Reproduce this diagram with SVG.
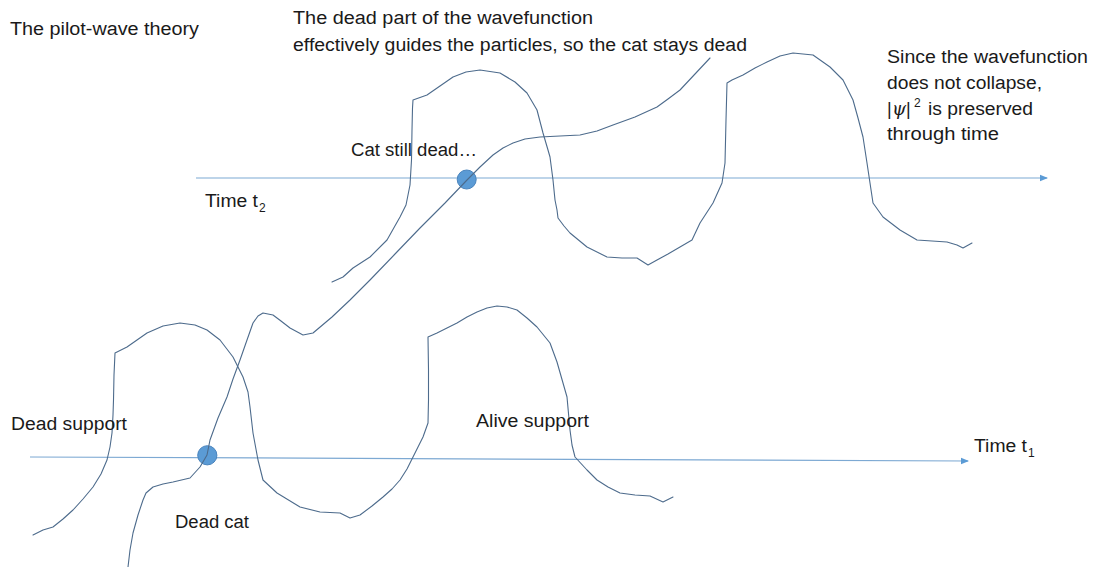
<svg xmlns="http://www.w3.org/2000/svg" width="1094" height="567" viewBox="0 0 1094 567">
<defs>
<style>
.t{font-family:"Liberation Sans",Arial,sans-serif;font-size:18px;fill:#1a1a1a}
.sub{font-size:12px}
.axis{stroke:#7DA9D3;stroke-width:1.2;fill:none}
.wave{stroke:#4D6B8C;stroke-width:1.1;fill:none;stroke-linejoin:round;stroke-linecap:round}
.dot{fill:#5B9BD5;stroke:#4A84BD;stroke-width:1}
</style>
<marker id="arr" markerWidth="8" markerHeight="8" refX="7" refY="4" orient="auto" markerUnits="userSpaceOnUse">
<path d="M0,0.8 L8,4 L0,7.2 Z" fill="#5B9BD5"/>
</marker>
</defs>
<rect width="1094" height="567" fill="#fff"/>

<g id="axes">
<line id="axis-t2" class="axis" x1="196" y1="178" x2="1047" y2="178" marker-end="url(#arr)"/>
<line id="axis-t1" class="axis" x1="30" y1="457" x2="968" y2="461" marker-end="url(#arr)"/>
</g>

<g id="dots">
<circle id="dot-t2" class="dot" cx="466.7" cy="179.5" r="9.5"/>
<circle id="dot-t1" class="dot" cx="207.3" cy="455.3" r="9.6"/>
</g>

<g id="connectors">
<polyline id="wave-t2-dead" class="wave" points="332,282 343,277 353,268 370,257 387,240 400,217 406,205 410,185 411.5,160 412,130 412.5,108 413,100 427,95 440,86 453,77 466,72 480,70 500,73 515,82 527,93 537,110 543,133 548,150 550,157 553,180 555,200 557,210 558,218 564,226 570,233 587,247 607,257 622,258 637,258 648,265 657,260 668,254 680,247 692,240 700,223 713,203 722,183 725,163 726,120 727,83 732,80 743,75 755,68 767,62 780,56 793,53 813,55 830,67 843,80 853,100 858,118 863,137 867,163 870,183 873,203 883,217 900,230 917,240 932,241 947,242 957,245 963,248 972,243"/>
<polyline id="wave-t1" class="wave" points="33,535 43,530 53,527 63,519 73,510 83,499 93,487 101,474 107,460 110,447 112,433 113,415 113.5,400 114,375 115,353 127,347 137,340 147,333 163,326 180,323 195,325 207,330 220,340 233,357 243,377 248,392 250,407 253,433 258,460 263,480 277,493 300,507 320,512 340,513 350,518 360,515 372,506 383,497 392,489 400,480 407,469 413,457 418,447 423,437 428,423 428.5,400 428.5,370 428,337 437,333 447,328 457,323 467,317 477,312 487,308 497,306 507,307 517,310 527,318 537,327 550,343 557,362 563,383 567,397 570,430 572,445 575,457 587,470 597,480 608,487 620,493 635,495 650,496 663,502 673,497"/>
<polyline id="trajectory" class="wave" points="710,58 695,74 680,90 668,99 657,107 635,117 613,125 597,131 580,135 560,136 540,137 525,139 513,143 503,148 493,155 480,167 467,180 445,203 420,228 395,254 370,280 350,300 332,317 313,333 303,335 290,328 281,321 273,315 263,313 258,316 253,323 247,340 240,360 233,379 227,397 218,418 210,440 207,455 200,467 190,478 173,482 163,484 153,487 146,493 143,500 138,515 133,533 130,550 128,567"/>
</g>

<g id="labels">
<text id="title" class="t" x="10" y="35" textLength="189" lengthAdjust="spacingAndGlyphs">The pilot-wave theory</text>
<text class="t" x="293" y="24" textLength="300" lengthAdjust="spacingAndGlyphs">The dead part of the wavefunction</text>
<text class="t" x="293" y="51" textLength="454" lengthAdjust="spacingAndGlyphs">effectively guides the particles, so the cat stays dead</text>
<text class="t" x="351" y="156" textLength="126" lengthAdjust="spacingAndGlyphs">Cat still dead…</text>
<text class="t" x="205" y="207"><tspan textLength="53" lengthAdjust="spacingAndGlyphs">Time t</tspan><tspan class="sub" x="259" y="212">2</tspan></text>
<text class="t" x="887" y="63" textLength="201" lengthAdjust="spacingAndGlyphs">Since the wavefunction</text>
<text class="t" x="887" y="89" textLength="155" lengthAdjust="spacingAndGlyphs">does not collapse,</text>
<text class="t" x="887" y="115"><tspan x="887">|</tspan><tspan x="892" font-family="'DejaVu Serif',serif" font-style="italic" font-size="18">ψ</tspan><tspan x="906">|</tspan><tspan class="sub" font-size="13" x="914" y="107">2</tspan><tspan x="928" y="115" textLength="105" lengthAdjust="spacingAndGlyphs">is preserved</tspan></text>
<text class="t" x="887" y="140" textLength="112" lengthAdjust="spacingAndGlyphs">through time</text>
<text class="t" x="11" y="430" textLength="116" lengthAdjust="spacingAndGlyphs">Dead support</text>
<text class="t" x="175" y="528" textLength="74" lengthAdjust="spacingAndGlyphs">Dead cat</text>
<text class="t" x="476" y="427" textLength="113" lengthAdjust="spacingAndGlyphs">Alive support</text>
<text class="t" x="974" y="452"><tspan textLength="53" lengthAdjust="spacingAndGlyphs">Time t</tspan><tspan class="sub" x="1028" y="457">1</tspan></text>
</g>
</svg>
